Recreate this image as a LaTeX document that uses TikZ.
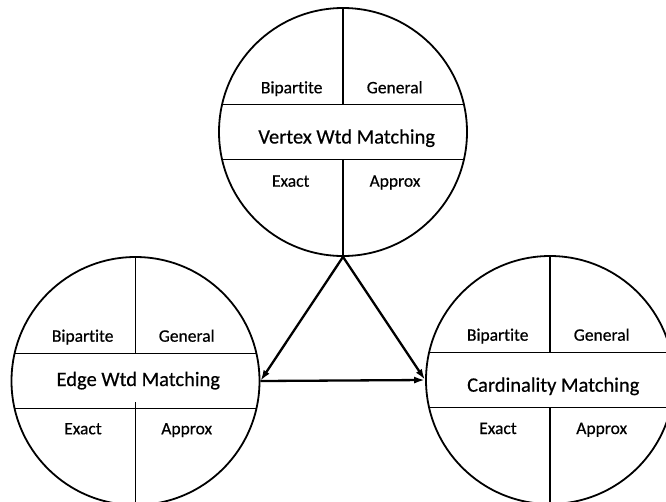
\documentclass[tikz,border=0pt]{standalone}
\usepackage{fontspec}
\setmainfont[Ligatures=NoCommon,FakeBold=0.5]{Carlito}
\usetikzlibrary{arrows.meta}
\begin{document}
\begin{tikzpicture}[x=1pt,y=-1pt,
  circ/.style={circle,draw,line width=1.8pt,minimum size=248pt,inner sep=0pt},
  ln/.style={line width=1.8pt},
  arr/.style={line width=2.3pt,-{Latex[length=11pt,width=7pt]}},
  lbl/.style={font=\fontsize{17.5}{20}\selectfont,anchor=base,inner sep=0pt},
  big/.style={font=\fontsize{20.5}{24}\selectfont,anchor=base,inner sep=0pt}]
\useasboundingbox (0,0) rectangle (666,501);
% top circle
\node[circ] (T) at (343,132) {};
\begin{scope}[shift={(343,132)}]
  \clip (0,0) circle[radius=124pt];
  \draw[ln] (-130,-27.5) -- (130,-27.5);
  \draw[ln] (-130,27.5) -- (130,27.5);
  \draw[ln] (0,-130) -- (0,-27.5);
  \draw[ln] (0,27.5) -- (0,130);
\end{scope}
\node[lbl] (Tb) at (291.7,93.3) {Bipartite};
\node[lbl] (Tg) at (394.7,93.3) {General};
\node[big] (Tm) at (346.7,143.5) {Vertex Wtd Matching};
\node[lbl] (Te) at (290.7,186.7) {Exact};
\node[lbl] (Ta) at (395,186.7) {Approx};
% lower-left circle
\node[circ] (L) at (135.5,381) {};
\begin{scope}[shift={(135.5,381)}]
  \clip (0,0) circle[radius=124pt];
  \draw[ln] (-130,-27.5) -- (130,-27.5);
  \draw[ln] (-130,27.5) -- (130,27.5);
  \draw[ln] (0,-130) -- (0,-27.5);
  \draw[ln] (0,21) -- (0,130);
\end{scope}
\node[lbl] (Lb) at (82.7,341.7) {Bipartite};
\node[lbl] (Lg) at (186.7,341.7) {General};
\node[big] (Lm) at (138.3,386) {Edge Wtd Matching};
\node[lbl] (Le) at (83,434.3) {Exact};
\node[lbl] (La) at (186.7,434.3) {Approx};
% lower-right circle
\node[circ] (R) at (550,380) {};
\begin{scope}[shift={(550,380)}]
  \clip (0,0) circle[radius=124pt];
  \draw[ln] (-130,-27.5) -- (130,-27.5);
  \draw[ln] (-130,27.5) -- (130,27.5);
  \draw[ln] (0,-130) -- (0,-27.5);
  \draw[ln] (0,27.5) -- (0,130);
\end{scope}
\node[lbl] (Rb) at (497.7,340.7) {Bipartite};
\node[lbl] (Rg) at (601.7,340.7) {General};
\node[big] (Rm) at (553.3,391.7) {Cardinality Matching};
\node[lbl] (Re) at (498,434) {Exact};
\node[lbl] (Ra) at (601.7,434) {Approx};
% arrows
\draw[arr] (T.south) -- (L.east);
\draw[arr] (T.south) -- (R.west);
\draw[arr] (L.east) -- (R.west);
\end{tikzpicture}
\end{document}
